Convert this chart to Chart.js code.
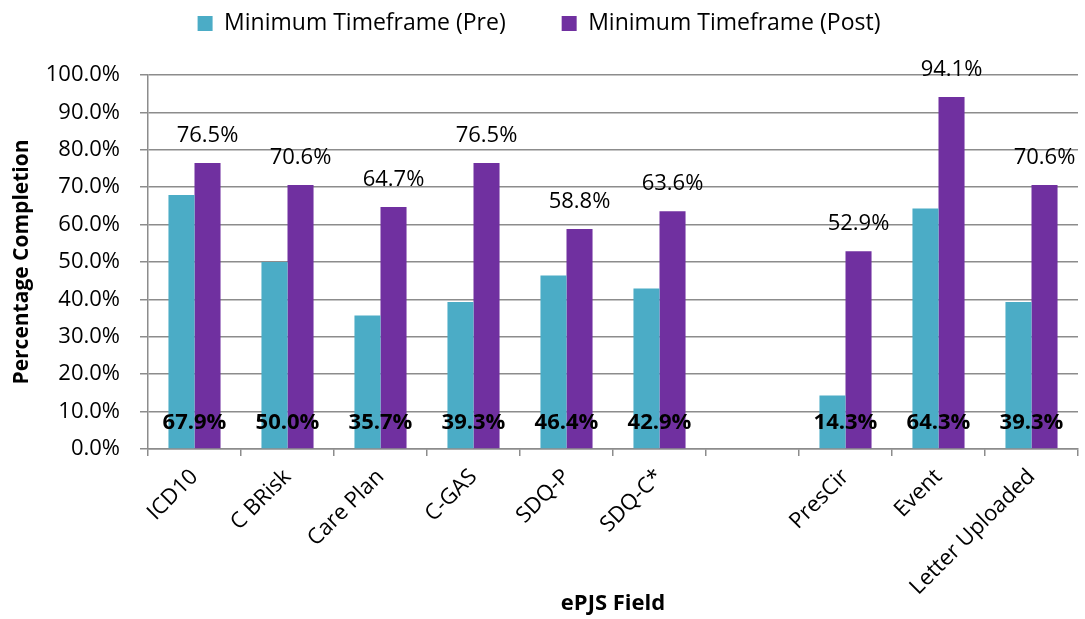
<!DOCTYPE html>
<html>
<head>
<meta charset="utf-8">
<script src="https://cdn.jsdelivr.net/npm/chart.js@4"></script>
<style>
  html, body { margin: 0; padding: 0; background: #fff; }
  #contenedor { width: 1085px; height: 619px; }
</style>
</head>
<body>
<div id="contenedor"><canvas id="grafico"></canvas></div>
<script>
// datos
const categorias = ['ICD10', 'C BRisk', 'Care Plan', 'C-GAS', 'SDQ-P', 'SDQ-C*', '', 'PresCir', 'Event', 'Letter Uploaded'];
const valoresPre = [67.9, 50.0, 35.7, 39.3, 46.4, 42.9, null, 14.3, 64.3, 39.3];
const valoresPost = [76.5, 70.6, 64.7, 76.5, 58.8, 63.6, null, 52.9, 94.1, 70.6];
const ticksY = [0, 10, 20, 30, 40, 50, 60, 70, 80, 90, 100];

const fuente = "'Open Sans', sans-serif";
const gris = '#8c8c8c';

// etiquetas de valores (sin plugin datalabels)
const etiquetas = {
  id: 'etiquetas',
  beforeLayout(chart) {
    // alto fijo para la leyenda, asi el area del grafico empieza donde en la imagen
    const lg = chart.legend;
    if (lg && !lg._ajustado) {
      const fitOriginal = lg.fit.bind(lg);
      lg.fit = function () { fitOriginal(); this.height = 119; };
      lg._ajustado = true;
    }
  },
  afterDatasetsDraw(chart) {
    const ctx = chart.ctx;
    const y = chart.scales.y;
    const x = chart.scales.x;
    const metaPost = chart.getDatasetMeta(1);
    ctx.save();
    ctx.fillStyle = '#000';
    ctx.textAlign = 'center';
    ctx.textBaseline = 'middle';
    // Pre: negrita abajo, centrada en la categoria
    ctx.font = 'bold 22px ' + fuente;
    valoresPre.forEach((v, i) => {
      if (v === null) return;
      ctx.fillText(v.toFixed(1) + '%', x.getPixelForValue(i), y.getPixelForValue(0) - 26);
    });
    // Post: encima de la barra
    ctx.font = '22px ' + fuente;
    valoresPost.forEach((v, i) => {
      if (v === null) return;
      const bar = metaPost.data[i];
      ctx.fillText(v.toFixed(1) + '%', bar.x, bar.y - 27);
    });
    ctx.restore();
  }
};

const ctx = document.getElementById('grafico').getContext('2d');
new Chart(ctx, {
  type: 'bar',
  plugins: [etiquetas],
  data: {
    labels: categorias,
    datasets: [{
      label: 'Minimum Timeframe (Pre)',
      data: valoresPre,
      backgroundColor: '#4BACC6',
      categoryPercentage: 0.56,
      barPercentage: 1
    }, {
      label: 'Minimum Timeframe (Post)',
      data: valoresPost,
      backgroundColor: '#7030A0',
      categoryPercentage: 0.56,
      barPercentage: 1
    }]
  },
  options: {
    responsive: true,
    maintainAspectRatio: false,
    animation: false,
    layout: { padding: { top: -44, right: 7, left: 0, bottom: 0 } },
    scales: {
      x: {
        grid: { offset: true, drawOnChartArea: false, color: gris, lineWidth: 1.5, tickLength: 7 },
        border: { color: gris, width: 1.5 },
        ticks: {
          color: '#000',
          font: { family: fuente, size: 22 },
          minRotation: 45, maxRotation: 45,
          autoSkip: false,
          padding: 8
        },
        title: {
          display: true, text: 'ePJS Field', color: '#000',
          font: { family: fuente, size: 22, weight: 'bold' },
          padding: { top: 0, bottom: 2 }
        },
        afterFit(scale) { scale.height = 170; }
      },
      y: {
        min: 0, max: 100,
        afterBuildTicks(scale) { scale.ticks = ticksY.map(v => ({ value: v })); },
        grid: { color: gris, lineWidth: 1.5, tickLength: 8 },
        border: { color: gris, width: 1.5 },
        ticks: {
          color: '#000',
          font: { family: fuente, size: 22 },
          padding: 20,
          callback: v => v.toFixed(1) + '%'
        },
        title: {
          display: true, text: 'Percentage Completion', color: '#000',
          font: { family: fuente, size: 21, weight: 'bold' },
          padding: { top: 9, bottom: 0 }
        },
        afterFit(scale) { scale.width = 148; }
      }
    },
    plugins: {
      legend: {
        position: 'top',
        labels: {
          color: '#000',
          font: { family: fuente, size: 23 },
          boxWidth: 15, boxHeight: 15,
          padding: 56
        }
      },
      tooltip: { enabled: false }
    }
  }
});
</script>
</body>
</html>
